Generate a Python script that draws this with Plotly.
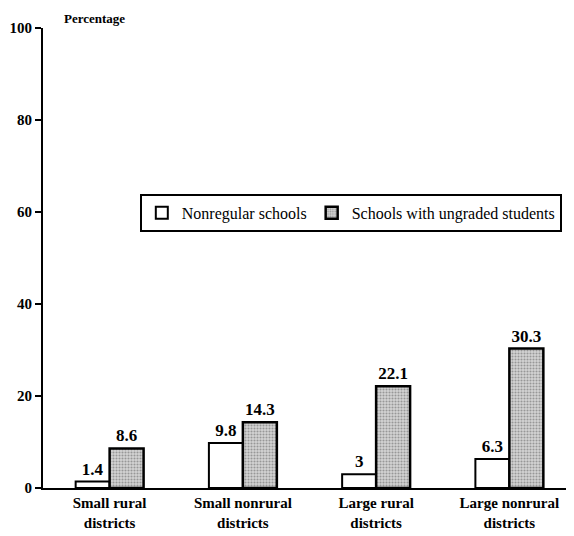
import plotly.graph_objects as go

categories = ["<b>Small rural</b><br><b>districts</b>", "<b>Small nonrural</b><br><b>districts</b>",
              "<b>Large rural</b><br><b>districts</b>", "<b>Large nonrural</b><br><b>districts</b>"]
nonregular = [1.4, 9.8, 3, 6.3]
ungraded = [8.6, 14.3, 22.1, 30.3]
nonregular_text = ["<b>1.4</b>", "<b>9.8</b>", "<b>3</b>", "<b>6.3</b>"]
ungraded_text = ["<b>8.6</b>", "<b>14.3</b>", "<b>22.1</b>", "<b>30.3</b>"]
y_ticks = [0, 20, 40, 60, 80, 100]
y_ticktext = ["<b>0</b>", "<b>20</b>", "<b>40</b>", "<b>60</b>", "<b>80</b>", "<b>100</b>"]

FONT = "Liberation Serif"

fig = go.Figure()
fig.add_trace(go.Bar(
    x=categories, y=nonregular, name="Nonregular schools",
    text=nonregular_text, textposition="outside", cliponaxis=False,
    textfont=dict(family=FONT, size=17, color="black"),
    marker=dict(color="white", line=dict(color="black", width=2)),
))
fig.add_trace(go.Bar(
    x=categories, y=ungraded, name="Schools with ungraded students",
    text=ungraded_text, textposition="outside", cliponaxis=False,
    textfont=dict(family=FONT, size=17, color="black"),
    marker=dict(color="#c4c4c4", line=dict(color="black", width=2.5),
                pattern=dict(shape=".", fgcolor="#5a5a5a", bgcolor="#d4d4d4", size=3, solidity=0.4)),
))

# page body adds an 8px offset, so the figure is 8px smaller than the window
fig.update_layout(
    width=566, height=528,
    margin=dict(l=35, r=2, t=20, b=48, autoexpand=False),
    paper_bgcolor="white", plot_bgcolor="white",
    barmode="group", bargap=0.49, bargroupgap=0,
    font=dict(family=FONT, size=15, color="black"),
    showlegend=True,
    legend=dict(
        orientation="h", x=0.183, y=0.598, xanchor="left", yanchor="middle",
        bordercolor="black", borderwidth=2, bgcolor="white",
        font=dict(family=FONT, size=16, color="black"),
        itemwidth=30, tracegroupgap=0,
    ),
    xaxis=dict(
        range=[-0.5, 3.47], showline=True, linecolor="black", linewidth=2,
        ticks="", showgrid=False, zeroline=False, automargin=False,
        tickfont=dict(family=FONT, size=15, color="black"),
    ),
    yaxis=dict(
        range=[0, 100], tickvals=y_ticks, ticktext=y_ticktext,
        showline=True, linecolor="black", linewidth=2,
        ticks="outside", ticklen=6, tickwidth=1.5, tickcolor="black",
        showgrid=False, zeroline=False, automargin=False,
        tickfont=dict(family=FONT, size=15, color="black"),
    ),
    annotations=[dict(
        text="<b>Percentage</b>", xref="paper", yref="paper", x=0.036, y=1.0,
        xanchor="left", yanchor="bottom", showarrow=False,
        font=dict(family=FONT, size=13, color="black"),
    )],
)

fig.write_html("out.html")
